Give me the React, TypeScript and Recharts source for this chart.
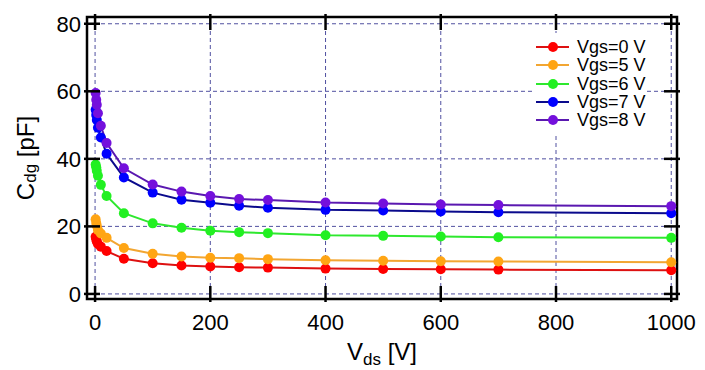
import React from 'react';
import { LineChart, Line, XAxis, YAxis, CartesianGrid, Legend, ReferenceArea } from 'recharts';

const vds = [1, 2, 3, 5, 10, 20, 50, 100, 150, 200, 250, 300, 400, 500, 600, 700, 1000];
const vgs0 = [16.9, 16.2, 15.5, 14.8, 14.0, 12.7, 10.4, 9.1, 8.4, 8.1, 7.9, 7.8, 7.5, 7.4, 7.3, 7.2, 7.0];
const vgs5 = [22.1, 21.0, 20.2, 18.9, 17.9, 16.6, 13.6, 11.9, 11.1, 10.7, 10.6, 10.3, 10.0, 9.8, 9.7, 9.6, 9.4];
const vgs6 = [38.3, 37.5, 36.5, 35.0, 32.3, 29.0, 23.9, 20.9, 19.6, 18.7, 18.3, 18.0, 17.4, 17.2, 17.0, 16.8, 16.6];
const vgs7 = [54.5, 53.0, 51.5, 49.2, 46.3, 41.5, 34.5, 30.0, 27.9, 27.0, 26.1, 25.5, 24.9, 24.7, 24.4, 24.2, 23.9];
const vgs8 = [59.5, 57.5, 56.0, 53.5, 49.8, 44.7, 37.2, 32.4, 30.3, 29.0, 28.1, 27.8, 27.1, 26.8, 26.5, 26.3, 26.0];

const xTicks = [0, 200, 400, 600, 800, 1000];
const yTicks = [0, 20, 40, 60, 80];

const series = [
  { key: 'vgs0', name: 'Vgs=0 V', line: '#dd1111', dot: '#ff0000' },
  { key: 'vgs5', name: 'Vgs=5 V', line: '#f2a632', dot: '#ffa514' },
  { key: 'vgs6', name: 'Vgs=6 V', line: '#2ee82e', dot: '#22f022' },
  { key: 'vgs7', name: 'Vgs=7 V', line: '#0a0a8c', dot: '#0000ff' },
  { key: 'vgs8', name: 'Vgs=8 V', line: '#5a18b0', dot: '#7410dc' },
];

const data = vds.map((v, i) => ({
  vds: v, vgs0: vgs0[i], vgs5: vgs5[i], vgs6: vgs6[i], vgs7: vgs7[i], vgs8: vgs8[i],
}));

const W = 705, H = 370;
const TOP = 17, RIGHT = 677;
const FONT = '"Liberation Sans", Arial, sans-serif';

const XTick = ({ x, y, payload }: any) => (
  <g>
    <line x1={x} x2={x} y1={y + 3} y2={y - 13} stroke="#000" strokeWidth={2.5} />
    <line x1={x} x2={x} y1={TOP - 3} y2={TOP + 13} stroke="#000" strokeWidth={2.5} />
    <text x={x} y={y + 31} textAnchor="middle" fontSize={22} fontFamily={FONT} fill="#000">{payload.value}</text>
  </g>
);

const YTick = ({ x, y, payload }: any) => (
  <g>
    <line x1={x - 3} x2={x + 13} y1={y} y2={y} stroke="#000" strokeWidth={2.5} />
    <line x1={RIGHT - 13} x2={RIGHT + 3} y1={y} y2={y} stroke="#000" strokeWidth={2.5} />
    <text x={x - 6} y={y + 8} textAnchor="end" fontSize={22} fontFamily={FONT} fill="#000">{payload.value}</text>
  </g>
);

const XLabel = ({ viewBox }: any) => (
  <text x={viewBox.x + viewBox.width / 2} y={viewBox.y + 61} textAnchor="middle" fontSize={24} fontFamily={FONT} fill="#000">
    <tspan>V</tspan><tspan fontSize={17} dy={5}>ds</tspan><tspan dy={-5}> [V]</tspan>
  </text>
);

const YLabel = ({ viewBox }: any) => {
  const cx = 25, cy = viewBox.y + viewBox.height / 2;
  return (
    <text x={cx} y={cy} transform={`rotate(-90 ${cx} ${cy})`} textAnchor="middle" dominantBaseline="central" fontSize={24} fontFamily={FONT} fill="#000">
      <tspan>C</tspan><tspan fontSize={17} dy={5}>dg</tspan><tspan dy={-5}> [pF]</tspan>
    </text>
  );
};

const LegendBox = () => (
  <div style={{ background: '#fff', width: 110, padding: '5px 0 4px 0', fontFamily: FONT }}>
    {series.map(s => (
      <div key={s.key} style={{ display: 'flex', alignItems: 'center', height: 18.3, whiteSpace: 'nowrap' }}>
        <svg width={41} height={14} style={{ marginLeft: 1, flexShrink: 0 }}>
          <line x1={0} x2={33} y1={7} y2={7} stroke={s.line} strokeWidth={2} />
          <circle cx={17} cy={7} r={5} fill={s.dot} />
        </svg>
        <span style={{ fontSize: 18, color: '#000', lineHeight: '18px', whiteSpace: 'nowrap' }}>{s.name}</span>
      </div>
    ))}
  </div>
);

export default function App() {
  return (
    <div style={{ position: 'absolute', left: 0, top: 0, width: W, height: H, background: '#fff' }}>
      <LineChart width={W} height={H} data={data} margin={{ top: TOP, right: W - RIGHT, bottom: 0, left: 0 }}>
        <CartesianGrid stroke="#5050a0" strokeDasharray="4 3" strokeWidth={1} />
        <XAxis dataKey="vds" type="number" domain={[-14, 1010]} ticks={xTicks} allowDataOverflow
          height={71} tickSize={0} tickMargin={0} tickLine={false} axisLine={false} tick={<XTick />}
          label={<XLabel />} />
        <YAxis type="number" domain={[-1.5, 82]} ticks={yTicks} allowDataOverflow
          width={87} tickSize={0} tickMargin={0} tickLine={false} axisLine={false} tick={<YTick />}
          label={<YLabel />} />
        <ReferenceArea x1={-14} x2={1010} y1={-1.5} y2={82} fill="none" fillOpacity={0} stroke="#000" strokeWidth={2.5} />
        {series.map(s => (
          <Line key={s.key} dataKey={s.key} name={s.name} type="linear" stroke={s.line} strokeWidth={2}
            dot={{ r: 5, fill: s.dot, stroke: s.dot, strokeWidth: 0 }} activeDot={false} isAnimationActive={false} />
        ))}
        <Legend layout="vertical" align="center" verticalAlign="middle" content={<LegendBox />}
          wrapperStyle={{ left: 535, top: 33, width: 110 }} />
      </LineChart>
    </div>
  );
}
